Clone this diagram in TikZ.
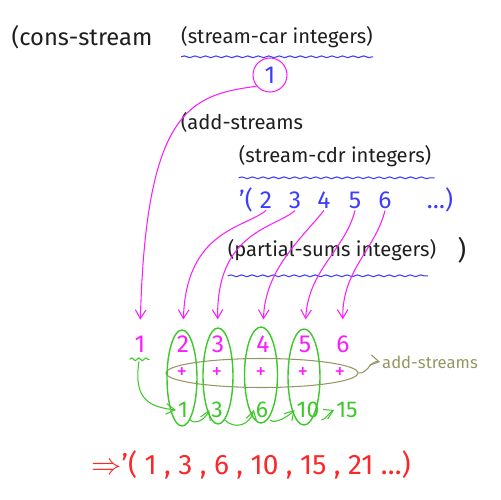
\documentclass[tikz,border=0pt]{standalone}
\usepackage{fontspec}
\setmainfont{Fira Sans}
\usetikzlibrary{arrows.meta,positioning,decorations.pathmorphing,shapes.geometric}

\definecolor{pen}{RGB}{30,30,30}
\definecolor{ink}{RGB}{60,60,255}
\definecolor{mag}{RGB}{250,30,250}
\definecolor{grn}{RGB}{60,200,40}
\definecolor{oli}{RGB}{150,150,100}
\definecolor{rd}{RGB}{250,40,40}

\begin{document}
\begin{tikzpicture}[
  x=0.02cm, y=-0.02cm,
  >={Straight Barb[length=5pt,width=6pt]},
  code/.style={text=pen,font=\fontsize{11.5}{14}\selectfont,inner sep=1pt},
  lst/.style={text=ink,font=\fontsize{14}{16}\selectfont,inner sep=1pt},
  num/.style={text=mag,font=\fontsize{14}{16}\selectfont,inner sep=1pt},
  sum/.style={text=grn,font=\fontsize{13}{15}\selectfont,inner sep=1pt},
  plus/.style={text=mag,font=\fontsize{12}{14}\selectfont,inner sep=1pt},
  wavy/.style={ink,semithick,decorate,decoration={snake,amplitude=0.5pt,segment length=6pt}},
  feed/.style={mag,semithick,->,shorten >=8pt},
  pair/.style={grn,thick,ellipse,draw,minimum height=1.92cm},
  carry/.style={grn,semithick,->}
]
\useasboundingbox (0,0) rectangle (500,500);

% expression
\node[code,font=\fontsize{13.5}{16}\selectfont] (cons) at (82,37) {(cons-stream};
\node[code] (car) at (277,37) {(stream-car integers)};
\node[circle,draw=mag,semithick,minimum size=0.68cm,lst] (one) at (270,75) {1};
\node[code] (add) at (242,122) {(add-streams};
\node[code] (cdr) at (335,156) {(stream-cdr integers)};
\node[code] (ps) at (332,250) {(partial-sums integers)};
\node[code,font=\fontsize{15}{17}\selectfont] (close) at (462,250) {)};
\draw[wavy] (car.south west) ++(2,7) -- ++(192,0);
\draw[wavy] (cdr.south west) ++(2,9) -- ++(196,0);
\draw[wavy] (ps.south west) ++(2,13) -- ++(200,0);

% stream-cdr list
\node[lst] (q) at (246,200) {'(};
\node[lst] (b2) at (266,200) {2};
\node[lst] (b3) at (295,200) {3};
\node[lst] (b4) at (324,200) {4};
\node[lst] (b5) at (355,200) {5};
\node[lst] (b6) at (385,200) {6};
\node[lst] (dots) at (440,200) {\dots)};

% terms
\node[num] (a1) at (140,344) {1};
\node[num] (a2) at (183,344) {2};
\node[num] (a3) at (218,344) {3};
\node[num] (a4) at (263,344) {4};
\node[num] (a5) at (305,344) {5};
\node[num] (a6) at (343,344) {6};

\node[plus] (p1) at (182,373) {+};
\node[plus] (p2) at (217,373) {+};
\node[plus] (p3) at (261,373) {+};
\node[plus] (p4) at (303,373) {+};
\node[plus] (p5) at (340,373) {+};

\node[sum] (c1) at (183,410) {1};
\node[sum] (c3) at (217,410) {3};
\node[sum] (c6) at (262,410) {6};
\node[sum] (c10) at (308,410) {10};
\node[sum] (c15) at (347,410) {15};

% feeding arrows
\draw[feed] (one.220) .. controls (190,95) and (146,110) .. (a1.north);
\draw[feed] (b2.south) .. controls (245,228) and (186,230) .. (a2.north);
\draw[feed] (b3.south) .. controls (275,228) and (216,232) .. (a3.north);
\draw[feed] (b4.south) .. controls (300,240) and (265,270) .. (a4.north);
\draw[feed] (b5.south) .. controls (345,250) and (308,270) .. (a5.north);
\draw[feed] (b6.south) .. controls (375,250) and (342,270) .. (a6.north);

% add-streams
\node[oli,ellipse,draw,semithick,minimum width=3.84cm,minimum height=0.58cm] (addz) at (262,373) {};
\node[text=oli,font=\fontsize{9.5}{11}\selectfont,inner sep=1pt] (lbl) at (430,362) {add-streams};
\draw[oli,semithick,->] (addz.east) .. controls (368,374) and (370,360) .. (lbl.west);

\node[pair,minimum width=0.6cm] (e1) at (182,378) {};
\node[pair,minimum width=0.6cm] (e2) at (218,376) {};
\node[pair,minimum width=0.66cm] (e3) at (261,375) {};
\node[pair,minimum width=0.64cm] (e4) at (304,377) {};

% running sums
\draw[grn,semithick,decorate,decoration={snake,amplitude=0.8pt,segment length=4pt}] (a1.south west) ++(-3,5) -- ++(20,0);
\draw[carry] (a1.south) ++(-1,7) .. controls (133,400) and (150,407) .. (c1.west);
\draw[carry] (c1.south east) .. controls (195,425) and (205,420) .. (c3.west);
\draw[carry] (c3.south east) .. controls (235,430) and (250,425) .. (c6.west);
\draw[carry] (c6.south east) .. controls (275,425) and (290,415) .. (c10.west);
\draw[carry] (c10.south east) .. controls (325,420) and (330,412) .. (c15.west);

% result
\node[text=rd,font=\fontsize{16}{18}\selectfont] (res) at (251,465)
  {$\Rightarrow$'( 1 , 3 , 6 , 10 , 15 , 21 \dots)};
\end{tikzpicture}
\end{document}
